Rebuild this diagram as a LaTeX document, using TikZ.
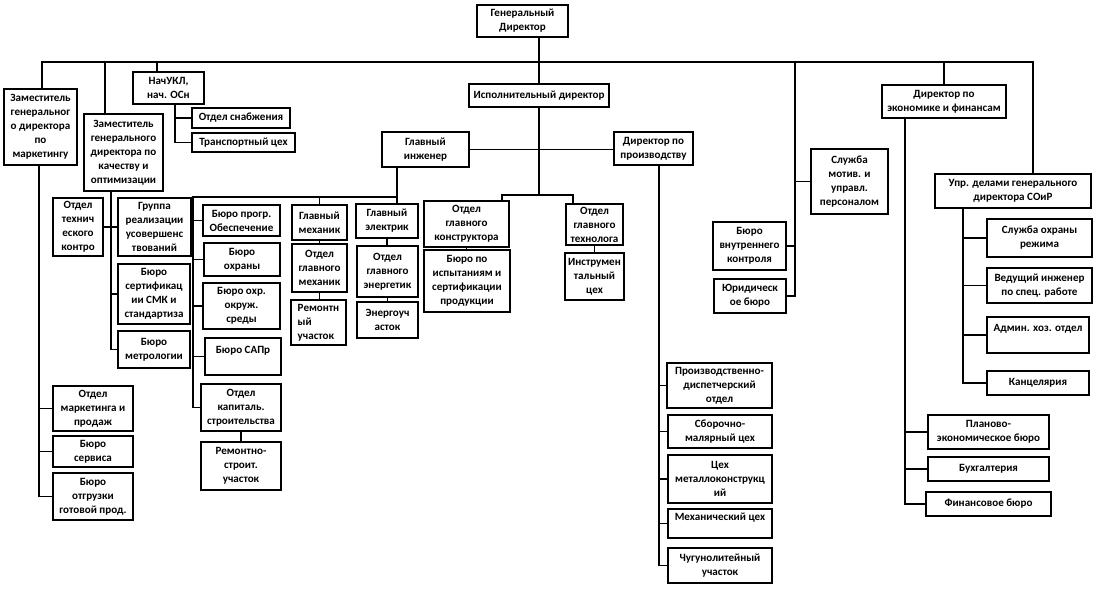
\documentclass[tikz,border=0pt]{standalone}
\usepackage{fontspec}
\setmainfont{Carlito}
\usetikzlibrary{calc}
\tikzset{
  bx/.style={draw=black, line width=0.8pt, fill=white, inner sep=1pt, align=center,
    font=\bfseries\fontsize{8.3}{10.5}\selectfont},
  ln/.style={draw=black, line width=0.8pt}
}
\newcommand\bx[7][]{\node[bx,minimum width={(#5-#3)*0.75pt},minimum height={(#6-#4)*0.75pt},#1] (#2) at ({(#3+#5)/2},{(#4+#6)/2}) {#7};}
\begin{document}
\begin{tikzpicture}[x=0.75pt,y=-0.75pt]
\fill[white] (0,0) rectangle (1100,592);
\useasboundingbox (0,0) rectangle (1100,592);
% top level
\bx{gd}{477}{5}{568}{37}{Генеральный\\Директор}
\bx{zm}{4}{89}{77}{165}{Заместитель\\генеральног\\о директора\\по\\маркетингу}
\bx{zk}{84}{114}{163}{191}{Заместитель\\генерального\\директора по\\качеству и\\оптимизации}
\bx{nach}{133}{72}{204}{104}{НачУКЛ,\\нач. ОСн}
\bx{snab}{192}{108}{290}{128}{Отдел снабжения}
\bx{trans}{192}{133}{295}{152}{Транспортный цех}
\bx{isp}{469}{84}{609}{107}{Исполнительный директор}
\bx{gi}{382}{132}{469}{167}{Главный\\инженер}
\bx{dp}{614}{132}{693}{165}{Директор по\\производству}
\bx{de}{882}{85}{1006}{118}{Директор по\\экономике и финансам}
\bx{slm}{811}{149}{888}{214}{Служба\\мотив. и\\управл.\\персоналом}
\bx{upr}{935}{174}{1091}{208}{Упр. делами генерального\\директора СОиР}
% quality branch
\bx{otk}{53}{198}{103}{256}{Отдел\\технич\\еского\\контро}
\bx{gr}{118}{198}{191}{256}{Группа\\реализации\\усовершенс\\твований}
\bx{sert}{118}{264}{190}{324}{Бюро\\сертификац\\ии СМК и\\стандартиза}
\bx{metr}{118}{331}{190}{368}{Бюро\\метрологии}
% chief engineer branch
\bx{bpo}{203}{205}{280}{236}{Бюро прогр.\\Обеспечение}
\bx{bohr}{204}{243}{280}{276}{Бюро\\охраны}
\bx{bokr}{203}{283}{280}{329}{Бюро охр.\\окруж.\\среды}
\bx{sapr}{205}{338}{281}{375}{Бюро САПр\\\phantom{X}}
\bx{cap}{201}{384}{281}{431}{Отдел\\капиталь.\\строительства}
\bx{rs}{201}{442}{281}{490}{Ремонтно-\\строит.\\участок}
\bx{gm}{292}{205}{347}{240}{Главный\\механик}
\bx{ogm}{292}{244}{347}{292}{Отдел\\главного\\механик}
\bx[align=left]{rem}{291}{300}{346}{345}{Ремонтн\\ый\\участок}
\bx{gel}{356}{204}{418}{238}{Главный\\электрик}
\bx{oge}{357}{246}{418}{297}{Отдел\\главного\\энергетик}
\bx{energ}{357}{302}{418}{338}{Энергоуч\\асток}
% executive branch
\bx{ogk}{424}{201}{509}{247}{Отдел\\главного\\конструктора}
\bx{bisp}{424}{250}{510}{312}{Бюро по\\испытаниям и\\сертификации\\продукции}
\bx{ogt}{566}{204}{623}{245}{Отдел\\главного\\технолога}
\bx{instr}{565}{253}{624}{300}{Инструмен\\тальный\\цех}
% right middle
\bx{bvk}{713}{222}{786}{270}{Бюро\\внутреннего\\контроля}
\bx{yur}{714}{279}{786}{313}{Юридическ\\ое бюро}
\bx{sor}{987}{219}{1092}{257}{Служба охраны\\режима}
\bx{vi}{987}{268}{1092}{303}{Ведущий инженер\\по спец. работе}
\bx{adm}{987}{317}{1089}{353}{Админ. хоз. отдел\\\phantom{X}}
\bx{kanc}{987}{371}{1089}{395}{Канцелярия}
% production
\bx{pdo}{667}{363}{772}{408}{Производственно-\\диспетчерский\\отдел}
\bx{sbor}{668}{415}{772}{448}{Сборочно-\\малярный цех}
\bx{metal}{668}{455}{772}{503}{Цех\\металлоконструкц\\ий}
\bx{mech}{668}{509}{772}{538}{Механический цех\\\phantom{X}}
\bx{chug}{668}{548}{772}{583}{Чугунолитейный\\участок}
% marketing
\bx{omp}{53}{386}{133}{431}{Отдел\\маркетинга и\\продаж}
\bx{serv}{53}{436}{133}{467}{Бюро\\сервиса}
\bx{otgr}{53}{473}{133}{520}{Бюро\\отгрузки\\готовой прод.}
% finance
\bx{plan}{928}{415}{1049}{449}{Планово-\\экономическое бюро}
\bx{buh}{928}{457}{1049}{481}{Бухгалтерия}
\bx{fin}{926}{492}{1051}{516}{Финансовое бюро}
% ---------- connectors ----------
\coordinate (b1) at (42,62);
\coordinate (b2) at (105,62);
\coordinate (b3) at (157,62);
\coordinate (b4) at (795,62);
\coordinate (b5) at (1033,62);
\draw[ln] (zm.north -| b1) -- (b1) -- (b5) -- (upr.north -| b5);
\draw[ln] (b2) -- (zk.north -| b2);
\draw[ln] (b3) -- (nach.north -| b3);
\draw[ln] (b4) -- (b4 |- yur.east) -- (yur.east);
\draw[ln] (b4 |- slm.west) -- (slm.west);
\draw[ln] (b4 |- bvk.east) -- (bvk.east);
\draw[ln] (de.north) -- (de.north |- b1);
\draw[ln] (isp.north |- gd.south) -- (isp.north);
% nach
\coordinate (xN) at (175,0);
\draw[ln] (nach.south -| xN) |- (trans.west);
\draw[ln] (xN |- snab.west) -- (snab.west);
% marketing
\coordinate (xM) at (39,0);
\draw[ln] (zm.south -| xM) |- (otgr.west);
\draw[ln] (xM |- omp.west) -- (omp.west);
\draw[ln] (xM |- serv.west) -- (serv.west);
% quality
\coordinate (xQ) at (111,0);
\draw[ln] (zk.south -| xQ) |- (metr.west);
\draw[ln] (otk.east) -- (gr.west);
\draw[ln] (xQ |- sert.west) -- (sert.west);
% chief engineer
\coordinate (xG) at (397,0);
\coordinate (yG) at (0,197);
\coordinate (xC) at (193,0);
\draw[ln] (gi.south -| xG) -- (gel.north -| xG);
\draw[ln] (xG |- yG) -- (xC |- yG) |- (cap.west);
\draw[ln] (gm.north) -- (gm.north |- yG);
\draw[ln] (xC |- bpo.west) -- (bpo.west);
\draw[ln] (xC |- bohr.west) -- (bohr.west);
\draw[ln] (xC |- bokr.west) -- (bokr.west);
\draw[ln] (xC |- sapr.west) -- (sapr.west);
\draw[ln] (gm.south) -- (ogm.north);
\draw[ln] (ogm.south) -- (ogm.south |- rem.north);
\draw[ln] (gel.south) -- (gel.south |- oge.north);
\draw[ln] (oge.south) -- (oge.south |- energ.north);
\draw[ln] (cap.south) -- (rs.north);
% executive
\coordinate (yI) at (0,195);
\coordinate (xK) at (502,0);
\coordinate (xT) at (573,0);
\draw[ln] (isp.south) -- (isp.south |- yI);
\draw[ln] (gi.east) -- (gi.east -| dp.west);
\draw[ln] (ogk.north -| xK) -- (xK |- yI) -- (xT |- yI) -- (ogt.north -| xT);
\draw[ln] (ogk.south) -- (ogk.south |- bisp.north);
\draw[ln] (ogt.south) -- (ogt.south |- instr.north);
% production
\coordinate (xP) at (659,0);
\draw[ln] (dp.south -| xP) |- (chug.west);
\draw[ln] (xP |- pdo.west) -- (pdo.west);
\draw[ln] (xP |- sbor.west) -- (sbor.west);
\draw[ln] (xP |- metal.west) -- (metal.west);
\draw[ln] (xP |- mech.west) -- (mech.west);
% finance
\coordinate (xE) at (905,0);
\draw[ln] (de.south -| xE) |- (fin.west);
\draw[ln] (xE |- plan.west) -- (plan.west);
\draw[ln] (xE |- buh.west) -- (buh.west);
% upr
\coordinate (xU) at (963,0);
\draw[ln] (upr.south -| xU) |- (kanc.west);
\draw[ln] (xU |- sor.west) -- (sor.west);
\draw[ln] (xU |- vi.west) -- (vi.west);
\draw[ln] (xU |- adm.west) -- (adm.west);
\end{tikzpicture}
\end{document}
